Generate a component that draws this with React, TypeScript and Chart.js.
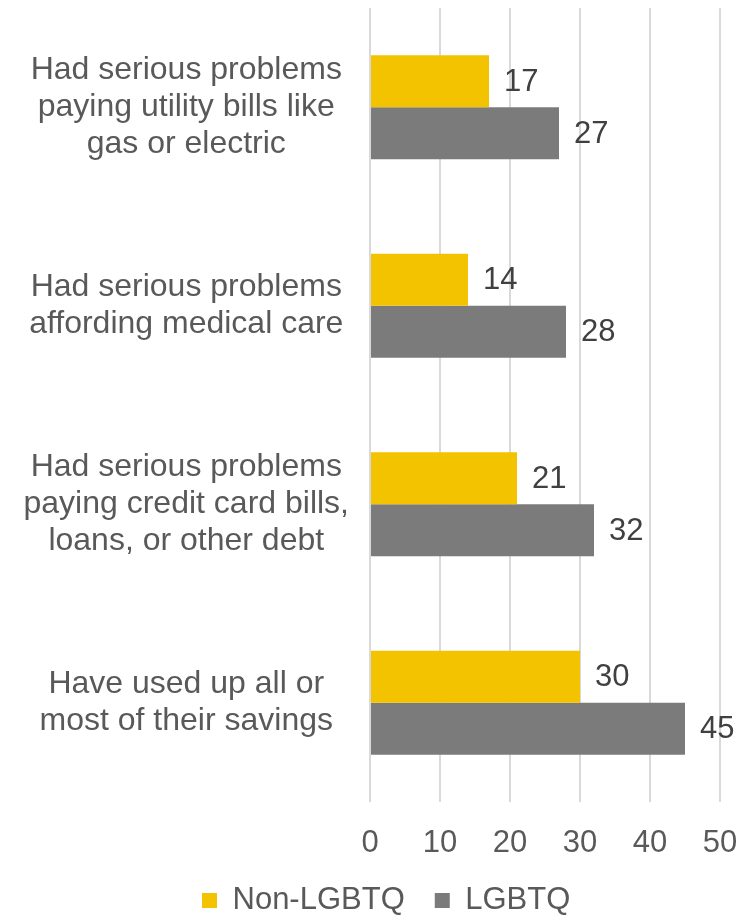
import React, { useEffect, useRef } from "react";
import { Chart, registerables } from "chart.js";

Chart.register(...registerables);

const categories: string[][] = [
  ["Had serious problems", "paying utility bills like", "gas or electric"],
  ["Had serious problems", "affording medical care"],
  ["Had serious problems", "paying credit card bills,", "loans, or other debt"],
  ["Have used up all or", "most of their savings"],
];
const seriesNames = ["Non-LGBTQ", "LGBTQ"];
const nonLgbtqValues = [17, 14, 21, 30];
const lgbtqValues = [27, 28, 32, 45];
const xMin = 0;
const xMax = 50;
const xStep = 10;

const FONT = "'Liberation Sans', Arial, Helvetica, sans-serif";

const valueLabels = {
  id: "valueLabels",
  afterDatasetsDraw(chart: any) {
    const ctx = chart.ctx;
    ctx.save();
    ctx.font = `31px ${FONT}`;
    ctx.fillStyle = "#404040";
    ctx.textAlign = "left";
    ctx.textBaseline = "middle";
    chart.data.datasets.forEach((ds: any, i: number) => {
      const meta = chart.getDatasetMeta(i);
      meta.data.forEach((bar: any, j: number) => {
        ctx.fillText(String(ds.data[j]), bar.x + 15, bar.y + 1);
      });
    });
    ctx.restore();
  },
};

const legendShift = {
  id: "legendShift",
  afterLayout(chart: any) {
    const lg = chart.legend;
    if (lg) {
      const w = lg.right - lg.left;
      lg.left = 172;
      lg.right = 172 + w;
    }
  },
};

export default function App() {
  const ref = useRef<HTMLCanvasElement | null>(null);

  useEffect(() => {
    if (!ref.current) return;
    Chart.defaults.font.family = FONT;
    const chart = new Chart(ref.current, {
      type: "bar",
      data: {
        labels: categories,
        datasets: [
          {
            label: seriesNames[0],
            data: nonLgbtqValues,
            backgroundColor: "#F4C300",
            categoryPercentage: 0.524,
            barPercentage: 1,
          },
          {
            label: seriesNames[1],
            data: lgbtqValues,
            backgroundColor: "#7B7B7B",
            categoryPercentage: 0.524,
            barPercentage: 1,
          },
        ],
      },
      options: {
        indexAxis: "y",
        responsive: false,
        animation: false,
        devicePixelRatio: 1,
        layout: { padding: { left: 0, right: 21, top: 8, bottom: 0 } },
        plugins: {
          tooltip: { enabled: false },
          legend: {
            position: "bottom",
            align: "start",
            labels: {
              boxWidth: 15,
              boxHeight: 15,
              padding: 30,
              color: "#595959",
              font: { size: 31, family: FONT },
            },
          },
        },
        scales: {
          x: {
            type: "linear",
            min: xMin,
            max: xMax,
            ticks: {
              stepSize: xStep,
              color: "#595959",
              padding: 23,
              font: { size: 31, family: FONT },
            },
            grid: { color: "#D9D9D9", lineWidth: 2, drawTicks: false },
            border: { display: false },
            afterFit(scale: any) {
              scale.height = 53;
              scale.paddingLeft = 0;
              scale.paddingRight = 0;
            },
          },
          y: {
            type: "category",
            ticks: {
              color: "#595959",
              crossAlign: "center",
              padding: 21,
              font: { size: 32, family: FONT, lineHeight: 1.147 },
            },
            grid: { display: false, drawTicks: false },
            border: { display: false },
            afterFit(scale: any) {
              scale.width = 370;
              scale.paddingTop = 0;
              scale.paddingBottom = 0;
            },
          },
        },
      },
      plugins: [valueLabels, legendShift],
    } as any);
    return () => chart.destroy();
  }, []);

  return (
    <div style={{ position: "fixed", left: 0, top: 0, width: 741, height: 926, background: "#fff" }}>
      <canvas ref={ref} width={741} height={926} style={{ display: "block" }} />
    </div>
  );
}
